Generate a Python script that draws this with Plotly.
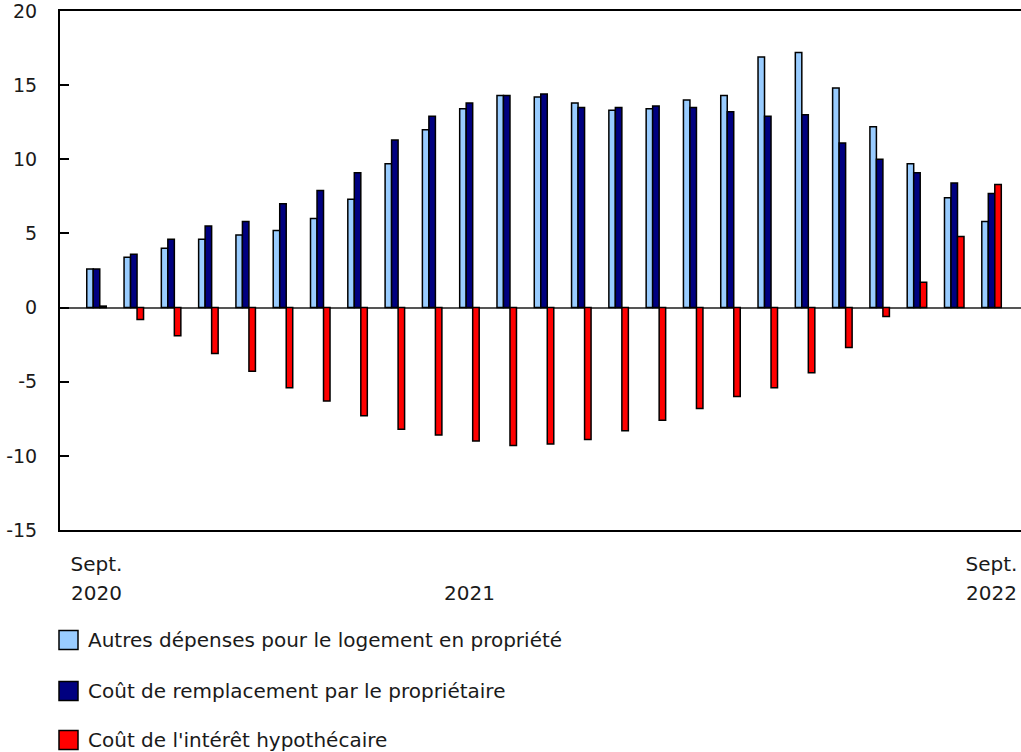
import plotly.graph_objects as go

# Monthly data, Sept. 2020 to Sept. 2022 (12-month % change)
months = [
    "sept. 2020", "oct. 2020", "nov. 2020", "déc. 2020",
    "janv. 2021", "févr. 2021", "mars 2021", "avr. 2021", "mai 2021", "juin 2021",
    "juil. 2021", "août 2021", "sept. 2021", "oct. 2021", "nov. 2021", "déc. 2021",
    "janv. 2022", "févr. 2022", "mars 2022", "avr. 2022", "mai 2022", "juin 2022",
    "juil. 2022", "août 2022", "sept. 2022",
]

autres = [2.6, 3.4, 4.0, 4.6, 4.9, 5.2, 6.0, 7.3, 9.7, 12.0, 13.4, 14.3, 14.2,
          13.8, 13.3, 13.4, 14.0, 14.3, 16.9, 17.2, 14.8, 12.2, 9.7, 7.4, 5.8]
remplacement = [2.6, 3.6, 4.6, 5.5, 5.8, 7.0, 7.9, 9.1, 11.3, 12.9, 13.8, 14.3, 14.4,
                13.5, 13.5, 13.6, 13.5, 13.2, 12.9, 13.0, 11.1, 10.0, 9.1, 8.4, 7.7]
interet = [0.1, -0.8, -1.9, -3.1, -4.3, -5.4, -6.3, -7.3, -8.2, -8.6, -9.0, -9.3, -9.2,
           -8.9, -8.3, -7.6, -6.8, -6.0, -5.4, -4.4, -2.7, -0.6, 1.7, 4.8, 8.3]

series_names = [
    "Autres dépenses pour le logement en propriété",
    "Coût de remplacement par le propriétaire",
    "Coût de l'intérêt hypothécaire",
]
series_values = [autres, remplacement, interet]
series_colors = ["#99ccff", "#000080", "#ff0000"]

# tick labels (month row, year row, y axis)
month_tickvals = ["sept. 2020", "juil. 2021", "sept. 2022"]
month_ticktext = ["Sept.", "", "Sept."]
year_tickvals = [0, 10, 24]
year_ticktext = ["2020", "2021", "2022"]
y_tickvals = [-15, -10, -5, 0, 5, 10, 15, 20]
y_ticktext = ["-15", "-10", "-5", "0", "5", "10", "15", "20"]

FONT = "DejaVu Sans"
FS = 20
TXT = "#1a1a1a"

fig = go.Figure()

for name, vals, color in zip(series_names, series_values, series_colors):
    fig.add_trace(go.Bar(
        x=months,
        y=vals,
        name=name,
        marker=dict(color=color, line=dict(color="#000000", width=1.5)),
        showlegend=False,
    ))

# empty helper trace so the year-row axis gets drawn
fig.add_trace(go.Scatter(
    x=year_tickvals, y=[None] * len(year_tickvals),
    xaxis="x2", mode="markers", showlegend=False, hoverinfo="skip",
))

# plot area: x 60..1021, y 11..530 ; paper extends down to 752
TOP = 11
paper_h = 752 - TOP
bottom_domain = 222 / paper_h
xrange = [-0.979, 24.79]


def paper_y(px):
    return (752 - px) / paper_h


fig.update_layout(
    width=1021,
    height=752,
    margin=dict(l=60, r=0, t=TOP, b=0, autoexpand=False),
    paper_bgcolor="white",
    plot_bgcolor="white",
    barmode="group",
    bargap=0.477,
    bargroupgap=0,
    font=dict(family=FONT, size=FS, color=TXT),
    xaxis=dict(
        type="category",
        range=xrange,
        automargin=False,
        showline=True,
        linecolor="#000000",
        linewidth=2,
        mirror=True,
        showgrid=False,
        ticks="",
        tickvals=month_tickvals,
        ticktext=month_ticktext,
        tickfont=dict(family=FONT, size=FS, color=TXT),
        ticklabelstandoff=15,
        ticklabeloverflow="allow",
    ),
    xaxis2=dict(
        type="linear",
        overlaying="x",
        anchor="free",
        position=paper_y(579),
        side="bottom",
        range=xrange,
        automargin=False,
        showline=False,
        showgrid=False,
        zeroline=False,
        ticks="",
        tickmode="array",
        tickvals=year_tickvals,
        ticktext=year_ticktext,
        tickfont=dict(family=FONT, size=FS, color=TXT),
        ticklabeloverflow="allow",
    ),
    yaxis=dict(
        domain=[bottom_domain, 1],
        range=[-15, 20],
        automargin=False,
        tickvals=y_tickvals,
        ticktext=y_ticktext,
        showline=True,
        linecolor="#000000",
        linewidth=2,
        showgrid=False,
        zeroline=True,
        zerolinecolor="#555555",
        zerolinewidth=1.5,
        ticks="inside",
        ticklen=9,
        tickwidth=2,
        tickcolor="#000000",
        tickfont=dict(family=FONT, size=19, color=TXT),
        ticklabelstandoff=17,
        ticklabeloverflow="allow",
    ),
)

# custom legend below the chart
row_px = [640, 691, 740]
for name, color, py in zip(series_names, series_colors, row_px):
    yp = paper_y(py)
    fig.add_shape(
        type="rect",
        xref="paper", yref="paper",
        xsizemode="pixel", ysizemode="pixel",
        xanchor=0, yanchor=yp,
        x0=-1, x1=18, y0=-9.5, y1=9.5,
        fillcolor=color,
        line=dict(color="#000000", width=1.5),
    )
    fig.add_annotation(
        text=name,
        xref="paper", yref="paper",
        x=0, y=yp, xshift=27,
        xanchor="left", yanchor="middle",
        showarrow=False,
        borderpad=0,
        font=dict(family=FONT, size=FS, color=TXT),
    )

fig.write_html(
    "out.html",
    config={"displayModeBar": False},
    post_script="document.body.style.margin='0px';",
)
